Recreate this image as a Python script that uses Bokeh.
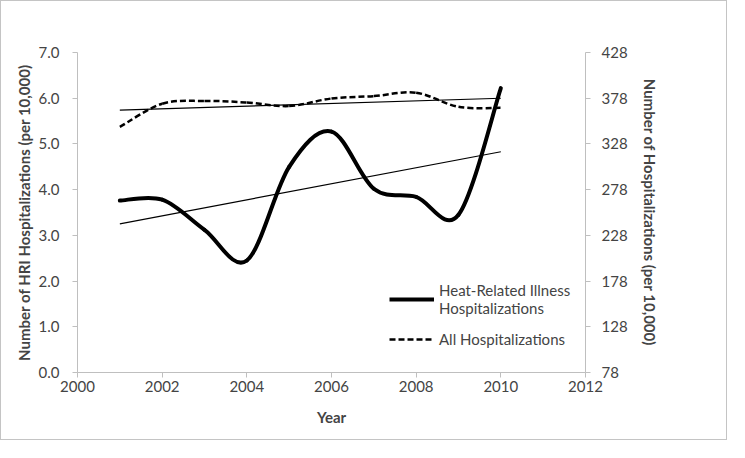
import numpy as np
from bokeh.plotting import figure
from bokeh.models import Range1d, LinearAxis, Legend, LegendItem, FixedTicker
from bokeh.embed import file_html
from bokeh.resources import INLINE

years = [2001, 2002, 2003, 2004, 2005, 2006, 2007, 2008, 2009, 2010]
hri = [3.76, 3.78, 3.12, 2.45, 4.50, 5.27, 4.02, 3.84, 3.45, 6.22]
allhosp = [346.6, 372.0, 375.0, 373.3, 369.4, 377.7, 380.3, 384.0, 368.6, 367.5]
left_ticks = [0, 1, 2, 3, 4, 5, 6, 7]
right_ticks = [78, 128, 178, 228, 278, 328, 378, 428]
x_ticks = [2000, 2002, 2004, 2006, 2008, 2010, 2012]

FONT = "Lato"
GRAY = "#bfbfbf"


def smooth_segments(xs, ys):
    x = np.asarray(xs, float)
    y = np.asarray(ys, float)
    n = len(x)
    xp = np.concatenate([[x[0]], x, [x[-1]]])
    yp = np.concatenate([[y[0]], y, [y[-1]]])
    seg = dict(x0=[], y0=[], x1=[], y1=[], cx0=[], cy0=[], cx1=[], cy1=[])
    for i in range(n - 1):
        p0x, p0y = xp[i], yp[i]
        p1x, p1y = xp[i + 1], yp[i + 1]
        p2x, p2y = xp[i + 2], yp[i + 2]
        p3x, p3y = xp[i + 3], yp[i + 3]
        seg["x0"].append(p1x); seg["y0"].append(p1y)
        seg["x1"].append(p2x); seg["y1"].append(p2y)
        seg["cx0"].append(p1x + (p2x - p0x) / 6); seg["cy0"].append(p1y + (p2y - p0y) / 6)
        seg["cx1"].append(p2x - (p3x - p1x) / 6); seg["cy1"].append(p2y - (p3y - p1y) / 6)
    return seg


p = figure(width=727, height=440, output_backend="svg", toolbar_location=None,
           x_range=Range1d(2000, 2012), y_range=Range1d(0, 7),
           min_border_left=76, min_border_right=143, min_border_top=51, min_border_bottom=69)
p.styles = {"border": "1px solid #c4c4c4"}
p.extra_y_ranges = {"right": Range1d(78, 428)}
p.outline_line_color = None
p.xgrid.visible = False
p.ygrid.visible = False

# HRI smoothed line
s1 = smooth_segments(years, hri)
p.bezier(x0=s1["x0"], y0=s1["y0"], x1=s1["x1"], y1=s1["y1"],
         cx0=s1["cx0"], cy0=s1["cy0"], cx1=s1["cx1"], cy1=s1["cy1"],
         line_color="black", line_width=4, line_cap="round")
# All hospitalizations smoothed dashed
s2 = smooth_segments(years, allhosp)
p.bezier(x0=s2["x0"], y0=s2["y0"], x1=s2["x1"], y1=s2["y1"],
         cx0=s2["cx0"], cy0=s2["cy0"], cx1=s2["cx1"], cy1=s2["cy1"],
         line_color="black", line_width=2.5, line_dash="6 3", y_range_name="right")

# linear trend lines
yr = np.array(years, float)
k1, b1 = np.polyfit(yr, np.array(hri), 1)
p.line([yr[0], yr[-1]], [k1 * yr[0] + b1, k1 * yr[-1] + b1], line_color="black", line_width=1.2)
k2, b2 = np.polyfit(yr, np.array(allhosp), 1)
p.line([yr[0], yr[-1]], [k2 * yr[0] + b2, k2 * yr[-1] + b2], line_color="black", line_width=1.2,
       y_range_name="right")

# legend proxies
l1 = p.line([2001], [hri[0]], line_color="black", line_width=4)
l2 = p.line([2001], [hri[0]], line_color="black", line_width=2.5, line_dash="6 3")
legend = Legend(items=[LegendItem(label="Heat-Related Illness\nHospitalizations", renderers=[l1]),
                       LegendItem(label="All Hospitalizations", renderers=[l2])],
                location=(312, 23), border_line_color=None, background_fill_alpha=0,
                label_text_font=FONT, label_text_font_size="15px", label_text_line_height=1.35,
                glyph_width=45, label_standoff=5, spacing=12, padding=4, margin=0)
p.add_layout(legend)


def style_axis(ax, label):
    ax.axis_label = label
    ax.axis_label_text_font = FONT
    ax.axis_label_text_font_style = "bold"
    ax.axis_label_text_font_size = "15px"
    ax.major_label_text_font = FONT
    ax.major_label_text_font_size = "15px"
    ax.axis_line_color = GRAY
    ax.major_tick_line_color = GRAY
    ax.minor_tick_line_color = None
    ax.major_tick_out = 5
    ax.major_tick_in = 0


style_axis(p.xaxis[0], "Year")
p.xaxis[0].ticker = FixedTicker(ticks=x_ticks)
p.xaxis[0].major_label_standoff = 3
p.xaxis[0].axis_label_standoff = 13

style_axis(p.yaxis[0], "Number of HRI Hospitalizations (per 10,000)")
p.yaxis[0].ticker = FixedTicker(ticks=left_ticks)
p.yaxis[0].major_label_overrides = {t: f"{t:.1f}" for t in left_ticks}
p.yaxis[0].major_label_standoff = 13
p.yaxis[0].axis_label_standoff = 3

ra = LinearAxis(y_range_name="right")
style_axis(ra, "Number of Hospitalizations (per 10,000)")
ra.ticker = FixedTicker(ticks=right_ticks)
ra.major_label_standoff = 11
ra.axis_label_standoff = 10
p.add_layout(ra, "right")

open("out.html", "w").write(file_html(p, INLINE))
